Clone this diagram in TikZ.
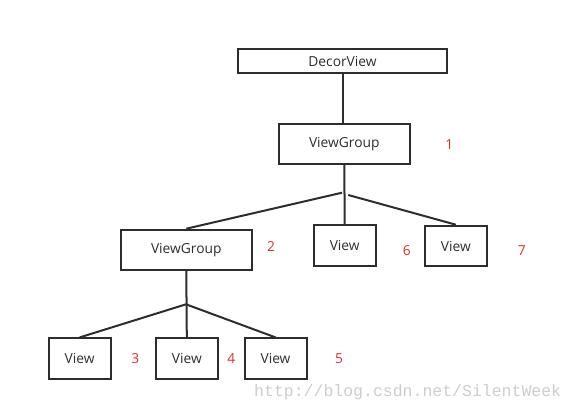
\documentclass[tikz,border=0pt]{standalone}
\usepackage{fontspec}
\setmainfont{Open Sans}
\newfontfamily\wmfont{Liberation Mono}
\usetikzlibrary{positioning}
\definecolor{boxline}{RGB}{45,45,45}
\definecolor{numred}{RGB}{228,45,45}
\definecolor{wmgray}{RGB}{205,205,205}

\begin{document}
\begin{tikzpicture}[
  x=1pt, y=-1pt,
  font=\fontsize{13.8}{16}\selectfont,
  box/.style={rectangle, draw=boxline, line width=2pt, inner sep=0pt,
              text=boxline},
  decor/.style={box, minimum width=209.6pt, minimum height=23.7pt},
  group/.style={box, minimum width=131pt, minimum height=40.2pt},
  leaf/.style={box, minimum width=62pt, minimum height=40.6pt},
  e/.style={draw=boxline, line width=2pt},
  num/.style={text=numred, inner sep=0pt},
]
\useasboundingbox (0,0) rectangle (577,412);

% ============ boxes ============
\node[decor] (dv)  at (342.5,61.2)  {DecorView};
\node[group] (vg1) at (344.3,144)   {ViewGroup};
\node[group] (vg2) at (186.3,249.8) {ViewGroup};
\node[leaf]  (v6)  at (344.7,245.7) {View};
\node[leaf]  (v7)  at (455.8,246)   {View};
\node[leaf]  (v3)  at (79.7,358.7)  {View};
\node[leaf]  (v4)  at (186.8,358.7) {View};
\node[leaf]  (v5)  at (275.5,358.7) {View};

% ============ red numbers ============
\node[num] (n1) at (449.3,144.3) {1};
\node[num] (n2) at (271,246)     {2};
\node[num] (n3) at (135.3,359)   {3};
\node[num] (n4) at (231.3,359)   {4};
\node[num] (n5) at (339,359)     {5};
\node[num] (n6) at (406.7,250.7) {6};
\node[num] (n7) at (521.7,250.7) {7};

% ============ connectors ============
\coordinate (b1)  at (342,192.7);
\coordinate (b1r) at (348.3,195);
\coordinate (b2)  at (186,304.3);

\draw[e] (dv.south) -- (dv.south |- vg1.north);
\draw[e] (vg1.south) -- (v6.north);
\draw[e] (b1) -- (vg2.north);
\draw[e] (b1r) -- (v7.north);
\draw[e] (vg2.south) -- (v4.north);
\draw[e] (b2) -- (v3.north) (b2) -- (v5.north);

% watermark
\node[text=wmgray, font=\wmfont\fontsize{16.5}{18}\selectfont, anchor=west,
      inner sep=0pt] (wm) at (254,392) {http://blog.csdn.net/SilentWeek};
\end{tikzpicture}
\end{document}
